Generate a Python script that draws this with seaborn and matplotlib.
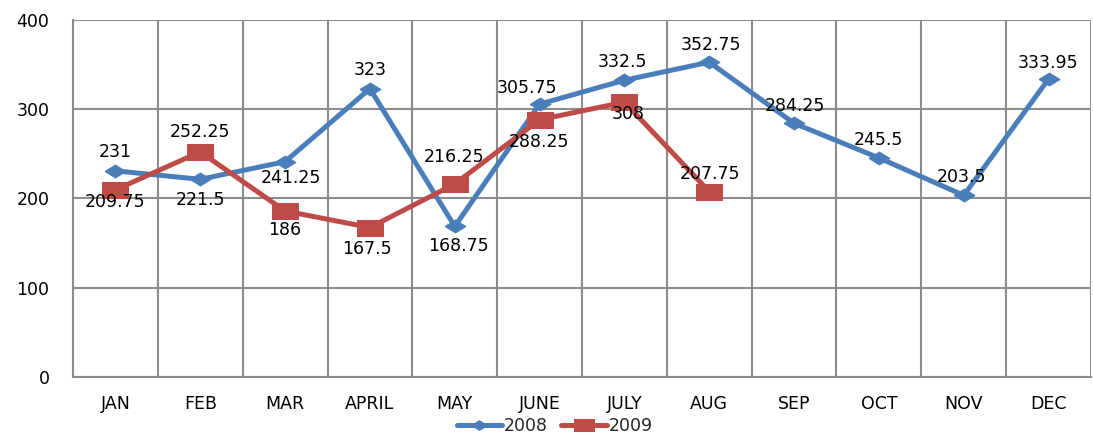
import numpy as np
import pandas as pd
import matplotlib
matplotlib.use("Agg")
import matplotlib.pyplot as plt
from matplotlib.path import Path
import seaborn as sns

months = ["JAN", "FEB", "MAR", "APRIL", "MAY", "JUNE", "JULY", "AUG",
          "SEP", "OCT", "NOV", "DEC"]
vals_2008 = [231, 221.5, 241.25, 323, 168.75, 305.75, 332.5, 352.75,
             284.25, 245.5, 203.5, 333.95]
vals_2009 = [209.75, 252.25, 186, 167.5, 216.25, 288.25, 308, 207.75]
labels_2008 = ["231", "221.5", "241.25", "323", "168.75", "305.75", "332.5",
               "352.75", "284.25", "245.5", "203.5", "333.95"]
labels_2009 = ["209.75", "252.25", "186", "167.5", "216.25", "288.25", "308",
               "207.75"]

# label offsets (pixels, x / y-up)
off_2008 = [(0, 19), (0, -21), (6, -16), (0, 19), (4, -20), (-13, 16),
            (-2, 18), (2, 17), (1, 17), (0, 18), (-2, 18), (-1, 16)]
off_2009 = [(0, -12), (0, 20), (0, -19), (-3, -21), (-1, 27), (-1, -22),
            (4, -12), (1, 18)]

BLUE = "#4A7EBB"
RED = "#BE4B48"
GRID = "#8C8C8C"

df = pd.concat([
    pd.DataFrame({"x": range(len(vals_2008)), "value": vals_2008, "year": "2008"}),
    pd.DataFrame({"x": range(len(vals_2009)), "value": vals_2009, "year": "2009"}),
])

sns.set_style("white")
plt.rcParams["font.family"] = ["DejaVu Sans"]

diamond = Path([(-1, 0), (0, 0.62), (1, 0), (0, -0.62), (-1, 0)])
square = Path([(-1, -0.6), (1, -0.6), (1, 0.6), (-1, 0.6), (-1, -0.6)])

fig = plt.figure(figsize=(10.93, 4.34), dpi=100)
ax = fig.add_axes([73 / 1093, 1 - 377 / 434, (1091 - 73) / 1093, (377 - 20) / 434])

styles = {"2008": (BLUE, diamond, 15), "2009": (RED, square, 19)}
for yr, (col, mk, ms) in styles.items():
    sub = df[df["year"] == yr]
    sns.lineplot(data=sub, x="x", y="value", ax=ax, color=col, linewidth=3.6,
                 marker=mk, markersize=ms, markeredgecolor=col,
                 markerfacecolor=col, label=yr, zorder=3)

px = 0.72
for vals, labs, offs in [(vals_2008, labels_2008, off_2008),
                         (vals_2009, labels_2009, off_2009)]:
    for i, (v, lab, (dx, dy)) in enumerate(zip(vals, labs, offs)):
        ax.annotate(lab, (i, v), xytext=(dx * px, dy * px), textcoords="offset points",
                    ha="center", va="center", fontsize=12.5, color="black", zorder=4)

ax.set_xlim(-0.5, len(months) - 0.5)
ax.set_ylim(0, 400)
ax.set_xticks(range(len(months)))
ax.set_xticklabels(months)
ax.set_xticks(np.arange(-0.5, len(months), 1.0), minor=True)
ax.set_yticks([0, 100, 200, 300, 400])
ax.set_xlabel("")
ax.set_ylabel("")

ax.grid(axis="y", which="major", color=GRID, linewidth=1.5, zorder=0)
ax.grid(axis="x", which="minor", color=GRID, linewidth=1.5, zorder=0)
ax.grid(axis="x", which="major", visible=False)
ax.set_axisbelow(True)

for side in ["top", "right"]:
    ax.spines[side].set_visible(False)
for side in ["left", "bottom"]:
    ax.spines[side].set_color(GRID)
    ax.spines[side].set_linewidth(1.5)

ax.tick_params(axis="x", which="major", length=0, pad=13, labelsize=12.5, colors="black")
ax.tick_params(axis="x", which="minor", length=5, width=1.5, color=GRID, direction="out")
ax.tick_params(axis="y", which="major", length=5, width=1.5, color=GRID, direction="out",
               pad=12, labelsize=12.5, labelcolor="black")

ax.legend(loc="center", bbox_to_anchor=(0.473, -0.137), ncol=2, frameon=False,
          fontsize=12.5, handlelength=2.6, handletextpad=0.1, columnspacing=0.8,
          borderaxespad=0, borderpad=0, markerscale=0.75)

fig.savefig("out.png", dpi=100)
